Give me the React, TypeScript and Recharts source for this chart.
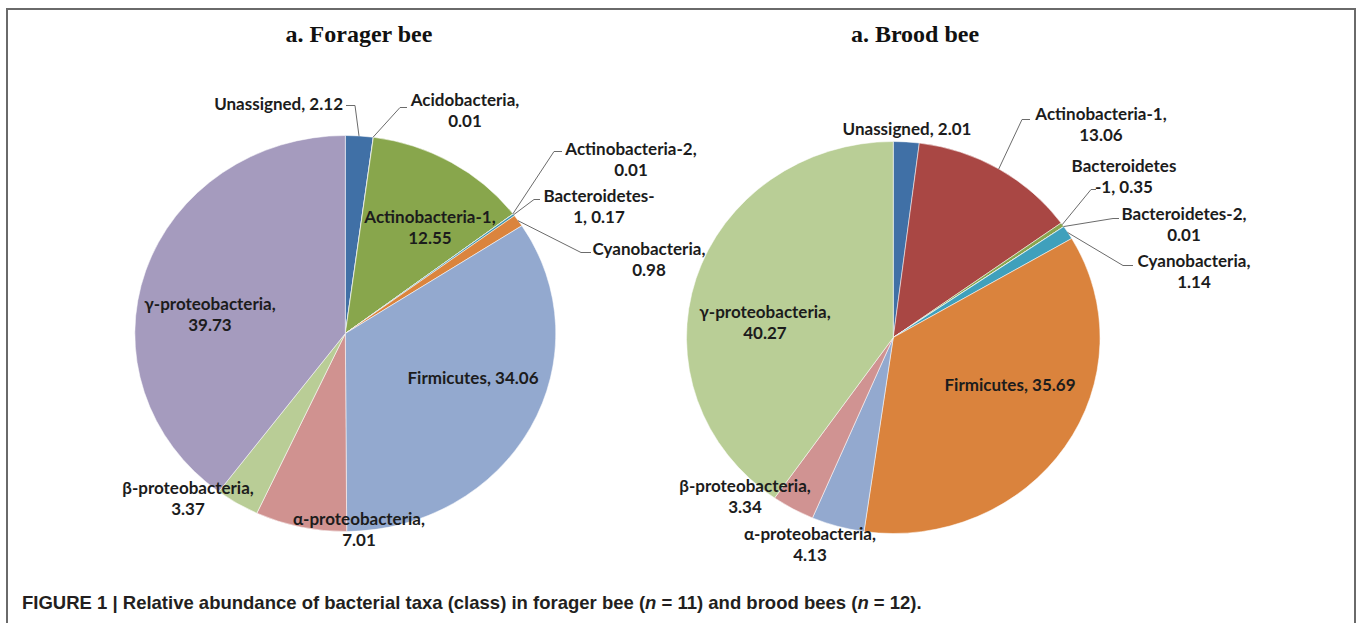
import React from "react";
import { Cell, Pie, PieChart } from "recharts";

const foragerNames = [
  "Unassigned",
  "Acidobacteria",
  "Actinobacteria-1",
  "Actinobacteria-2",
  "Bacteroidetes-1",
  "Cyanobacteria",
  "Firmicutes",
  "α-proteobacteria",
  "β-proteobacteria",
  "γ-proteobacteria",
];
const foragerValues = [2.12, 0.01, 12.55, 0.01, 0.17, 0.98, 34.06, 7.01, 3.37, 39.73];
const foragerColors = [
  "#4070A6", "#AA4643", "#88A64C", "#80699B", "#3D96AE",
  "#DB843D", "#93A9CF", "#D09290", "#B9CD96", "#A59BBE",
];

const broodNames = [
  "Unassigned",
  "Actinobacteria-1",
  "Bacteroidetes-1",
  "Bacteroidetes-2",
  "Cyanobacteria",
  "Firmicutes",
  "α-proteobacteria",
  "β-proteobacteria",
  "γ-proteobacteria",
];
const broodValues = [2.01, 13.06, 0.35, 0.01, 1.14, 35.69, 4.13, 3.34, 40.27];
const broodColors = [
  "#4070A6", "#A94744", "#89A54E", "#80699B", "#3FA0BC",
  "#DA833D", "#93A9CF", "#D09392", "#B9CE96",
];

const foragerData = foragerNames.map((name, i) => ({ name, value: foragerValues[i] }));
const broodData = broodNames.map((name, i) => ({ name, value: broodValues[i] }));

// label placement, offsets from pie centre in page px
type Wrap = "one" | "comma" | number;
type LabelPos = {
  dx: number;
  dy: number;
  wrap: Wrap;
  anchor?: "start" | "middle" | "end";
  elbow?: [number, number];
  end?: number;
};

const foragerLabels: LabelPos[] = [
  { dx: -2, dy: -230, wrap: "one", anchor: "end", elbow: [10, -228], end: 1 },
  { dx: 120, dy: -234, wrap: "comma", elbow: [55, -226], end: 62 },
  { dx: 85, dy: -117, wrap: "comma" },
  { dx: 286, dy: -185, wrap: "comma", elbow: [209, -182], end: 217 },
  { dx: 254, dy: -138, wrap: 14, elbow: [189, -134], end: 195 },
  { dx: 304, dy: -85, wrap: "comma", elbow: [236, -81], end: 246 },
  { dx: 128, dy: 44, wrap: "one" },
  { dx: 14, dy: 185, wrap: "comma" },
  { dx: -157, dy: 154, wrap: "comma" },
  { dx: -135, dy: -30, wrap: "comma" },
];

const broodLabels: LabelPos[] = [
  { dx: 14, dy: -209, wrap: "one" },
  { dx: 208, dy: -224, wrap: "comma", elbow: [129, -218], end: 137 },
  { dx: 231, dy: -172, wrap: 13, elbow: [198, -148], end: 203 },
  { dx: 291, dy: -124, wrap: "comma", elbow: [220, -119], end: 226 },
  { dx: 301, dy: -77, wrap: "comma", elbow: [230, -72], end: 240 },
  { dx: 117, dy: 47, wrap: "one" },
  { dx: -83, dy: 196, wrap: "comma" },
  { dx: -148, dy: 148, wrap: "comma" },
  { dx: -128, dy: -26, wrap: "comma" },
];

const LINE_H = 21;
const LABEL_FONT = "Lato, 'Open Sans', sans-serif";

function makeLabel(names: string[], values: number[], layout: LabelPos[], sx: number) {
  return (props: any) => {
    const { cx, cy, midAngle, outerRadius, index } = props;
    const pos = layout[index];
    if (!pos) return null;
    const name = names[index];
    const val = values[index].toFixed(2);
    let lines: string[];
    if (pos.wrap === "one") lines = [`${name}, ${val}`];
    else if (pos.wrap === "comma") lines = [`${name},`, val];
    else {
      const full = `${name}, ${val}`;
      lines = [full.slice(0, pos.wrap), full.slice(pos.wrap)];
    }
    const rad = (-midAngle * Math.PI) / 180;
    const ax = cx + outerRadius * sx * Math.cos(rad);
    const ay = cy + outerRadius * Math.sin(rad);
    const tx = cx + pos.dx;
    const ty = cy + pos.dy;
    return (
      <g>
        {pos.elbow && (
          <polyline
            points={`${ax},${ay} ${cx + pos.elbow[0]},${cy + pos.elbow[1]} ${cx + (pos.end ?? pos.elbow[0])},${cy + pos.elbow[1]}`}
            fill="none"
            stroke="#6b6b6b"
            strokeWidth={1}
          />
        )}
        {lines.map((l, i) => (
          <text
            key={i}
            x={tx}
            y={ty + i * LINE_H}
            textAnchor={pos.anchor ?? "middle"}
            dominantBaseline="central"
            fontFamily={LABEL_FONT}
            fontWeight={700}
            fontSize={17}
            fill="#1c1c1c"
          >
            {l}
          </text>
        ))}
      </g>
    );
  };
}

const W = 1358;
const H = 623;

const A = { cx: 340, cy: 328.5, r: 198, sx: 1.063 };
const B = { cx: 888, cy: 332.5, r: 196, sx: 1.055 };

export default function App() {
  return (
    <div
      style={{
        position: "absolute",
        left: 0,
        top: 0,
        width: W,
        height: H,
        background: "#fff",
        overflow: "hidden",
      }}
    >
      <style>{`
        .pa .recharts-sector { transform-origin: ${A.cx}px ${A.cy}px; transform: scaleX(${A.sx}); }
        .pb .recharts-sector { transform-origin: ${B.cx}px ${B.cy}px; transform: scaleX(${B.sx}); }
      `}</style>
      <div
        style={{
          position: "absolute",
          left: 6,
          top: 8,
          width: 1346,
          height: 700,
          border: "2px solid #6a6a6a",
        }}
      />
      <div
        style={{
          position: "absolute",
          left: 209,
          width: 300,
          top: 22,
          textAlign: "center",
          fontFamily: "'Liberation Serif', 'Times New Roman', serif",
          fontWeight: 700,
          fontSize: 24,
          lineHeight: "24px",
          color: "#111",
        }}
      >
        a. Forager bee
      </div>
      <div
        style={{
          position: "absolute",
          left: 765,
          width: 300,
          top: 22,
          textAlign: "center",
          fontFamily: "'Liberation Serif', 'Times New Roman', serif",
          fontWeight: 700,
          fontSize: 24,
          lineHeight: "24px",
          color: "#111",
        }}
      >
        a. Brood bee
      </div>

      <div className="pa" style={{ position: "absolute", left: 0, top: 0 }}>
        <PieChart width={W} height={H}>
          <Pie
            data={foragerData}
            dataKey="value"
            nameKey="name"
            cx={A.cx}
            cy={A.cy}
            outerRadius={A.r}
            startAngle={90}
            endAngle={-270}
            stroke="#ffffff"
            strokeWidth={0.5}
            labelLine={false}
            label={makeLabel(foragerNames, foragerValues, foragerLabels, A.sx)}
            isAnimationActive={false}
          >
            {foragerData.map((_, i) => (
              <Cell key={i} fill={foragerColors[i]} />
            ))}
          </Pie>
        </PieChart>
      </div>

      <div className="pb" style={{ position: "absolute", left: 0, top: 0 }}>
        <PieChart width={W} height={H}>
          <Pie
            data={broodData}
            dataKey="value"
            nameKey="name"
            cx={B.cx}
            cy={B.cy}
            outerRadius={B.r}
            startAngle={90}
            endAngle={-270}
            stroke="#ffffff"
            strokeWidth={0.5}
            labelLine={false}
            label={makeLabel(broodNames, broodValues, broodLabels, B.sx)}
            isAnimationActive={false}
          >
            {broodData.map((_, i) => (
              <Cell key={i} fill={broodColors[i]} />
            ))}
          </Pie>
        </PieChart>
      </div>

      <div
        style={{
          position: "absolute",
          left: 22,
          top: 593,
          fontFamily: "'Liberation Sans', Arial, sans-serif",
          fontWeight: 700,
          fontSize: 18.5,
          lineHeight: "20px",
          color: "#231f20",
          whiteSpace: "nowrap",
        }}
      >
        FIGURE 1 | Relative abundance of bacterial taxa (class) in forager bee (<i>n</i> = 11) and brood bees (<i>n</i> = 12).
      </div>
    </div>
  );
}
